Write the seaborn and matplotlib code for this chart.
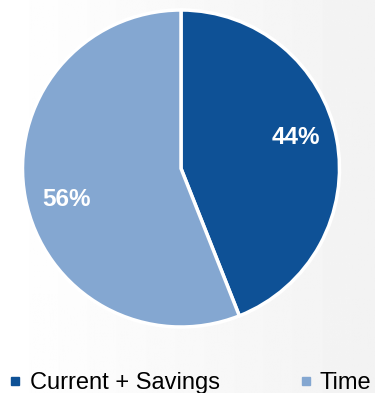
import numpy as np
import matplotlib
matplotlib.use("Agg")
import matplotlib.pyplot as plt
from matplotlib.lines import Line2D
import seaborn as sns

# Account mix
categories = ["Current + Savings", "Time"]
shares = [44, 56]
colors = ["#0E5196", "#84A7D1"]

sns.set_style("white")
plt.rcParams["font.family"] = ["Liberation Sans", "DejaVu Sans"]

W, H = 375, 393
fig = plt.figure(figsize=(W / 100, H / 100), dpi=100)
fig.patch.set_facecolor("white")

# soft light-grey backdrop, fading toward the right
bg = fig.add_axes([0, 0, 1, 1], zorder=-10)
grad = np.linspace(1.0, 0.95, 256)[None, :].repeat(2, axis=0)
bg.imshow(grad, cmap="gray", vmin=0, vmax=1, aspect="auto", extent=[0, 1, 0, 1])
bg.set_axis_off()

# pie placed by pixel geometry: center (181, 168.5), radius 158.5
cx, cy, r = 181, 168.5, 158.5
ax = fig.add_axes([(cx - r) / W, (H - cy - r) / H, 2 * r / W, 2 * r / H])
ax.patch.set_alpha(0)
wedges, _, autotexts = ax.pie(
    shares,
    colors=colors,
    startangle=90,
    counterclock=False,
    autopct=lambda p: f"{p:.0f}%",
    pctdistance=0.75,
    wedgeprops=dict(edgecolor="white", linewidth=2.5),
    textprops=dict(color="white", fontsize=17.5, fontweight="bold"),
)
# nudge the percentage labels a few degrees counter-clockwise of each wedge's middle
for w, t in zip(wedges, autotexts):
    ang = np.deg2rad((w.theta1 + w.theta2) / 2 + 4.5)
    t.set_position((0.75 * np.cos(ang), 0.75 * np.sin(ang)))
ax.set_xlim(-1, 1)
ax.set_ylim(-1, 1)
ax.set_axis_off()

handles = [
    Line2D([], [], marker="s", linestyle="none", markersize=6,
           markerfacecolor=c, markeredgecolor=c)
    for c in colors
]
fig.legend(
    handles, categories,
    loc="lower left", bbox_to_anchor=(0.0, -0.027),
    ncol=2, frameon=False, fontsize=17, labelcolor="black",
    handlelength=0.5, handletextpad=0.35, columnspacing=3.4,
    borderaxespad=0.0,
)

fig.savefig("out.png", dpi=100)
